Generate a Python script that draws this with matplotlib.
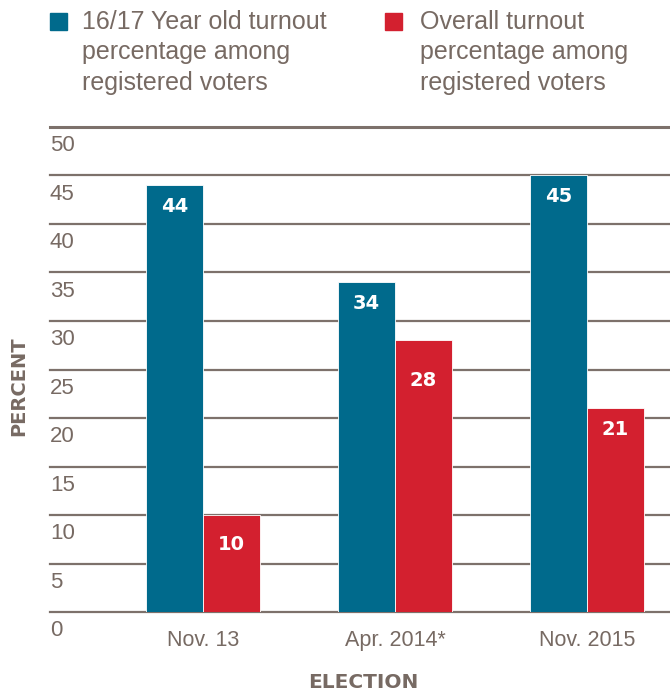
import matplotlib
matplotlib.use("Agg")
import matplotlib.pyplot as plt
from matplotlib.patches import Rectangle
import numpy as np

# ---- data ----
elections = ["Nov. 13", "Apr. 2014*", "Nov. 2015"]
youth_turnout = [44, 34, 45]
overall_turnout = [10, 28, 21]
series_names = ["16/17 Year old turnout\npercentage among\nregistered voters",
                "Overall turnout\npercentage among\nregistered voters"]
y_ticks = [0, 5, 10, 15, 20, 25, 30, 35, 40, 45, 50]

BLUE = "#006a8c"
RED = "#d3202f"
GREY = "#776a63"
GRID = "#7d716b"

plt.rcParams['font.family'] = ['Liberation Sans', 'DejaVu Sans']

fig = plt.figure(figsize=(6.7, 6.94), dpi=100)
ax = fig.add_axes([50/670, 82/694, 620/670, 485/694])

x = np.arange(len(elections))
w = 57/192
ax.set_xlim(-153/192, 2 + 83/192)
ax.set_ylim(0, 50)

for t in y_ticks:
    lw = 2.2 if t == 50 else 1.6
    ax.axhline(t, color=GRID, lw=lw, zorder=1, clip_on=False)
    ax.annotate(str(t), xy=(0, t), xycoords=('axes fraction', 'data'),
                xytext=(0, -13.5), textcoords='offset points',
                ha='left', va='center', fontsize=16, color=GREY)

b1 = ax.bar(x - w/2, youth_turnout, w, color=BLUE, edgecolor='white', linewidth=0.6, zorder=3)
b2 = ax.bar(x + w/2, overall_turnout, w, color=RED, edgecolor='white', linewidth=0.6, zorder=3)

offs_blue = [-15.5, -15.5, -15]
offs_red = [-21.5, -29, -15]
for bars, vals, offs in ((b1, youth_turnout, offs_blue), (b2, overall_turnout, offs_red)):
    for rect, v, o in zip(bars, vals, offs):
        ax.annotate(str(v), xy=(rect.get_x() + rect.get_width()/2, v),
                    xytext=(0, o), textcoords='offset points',
                    ha='center', va='center', fontsize=14, fontweight='bold',
                    color='white', family='DejaVu Sans', zorder=4)

ax.set_xticks(x)
ax.set_xticklabels(elections, fontsize=15.5, color=GREY)
ax.tick_params(axis='x', length=0, pad=13)
ax.set_yticks([])
for s in ax.spines.values():
    s.set_visible(False)

fig.text(19/670, 1 - 386/694, "PERCENT", rotation=90, ha='center', va='center',
         fontsize=14, fontweight='bold', color=GREY, family='DejaVu Sans')
fig.text(363/670, 1 - 682/694, "ELECTION", ha='center', va='center',
         fontsize=14.5, fontweight='bold', color=GREY, family='DejaVu Sans')

# legend
for (sx, tx), name, col in zip(((50, 82), (385, 420)), series_names, (BLUE, RED)):
    fig.patches.append(Rectangle((sx/670, 1 - 30/694), 17/670, 17/694,
                                 transform=fig.transFigure, color=col))
    fig.text(tx/670, 1 - 10/694, name, ha='left', va='top', fontsize=18,
             color=GREY, linespacing=1.33)

fig.savefig("out.png", dpi=100)
